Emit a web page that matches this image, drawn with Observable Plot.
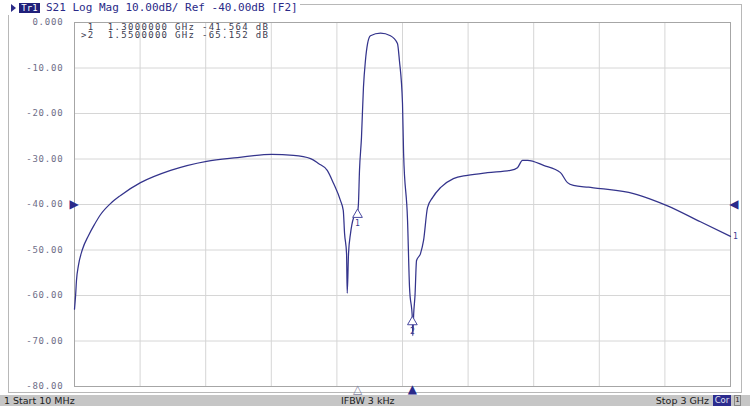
<!DOCTYPE html>
<html><head><meta charset="utf-8">
<script src="https://cdn.jsdelivr.net/npm/d3@7"></script>
<script src="https://cdn.jsdelivr.net/npm/@observablehq/plot@0.6"></script>
<style>
body{margin:0;background:#fff;}
#wrap{position:relative;width:750px;height:411px;overflow:hidden;background:#fff;}
#wrap svg{position:absolute;left:0;top:0;}
#outer{position:absolute;left:8px;top:4px;width:734px;height:389px;border:1px solid #b8b8b8;box-sizing:border-box;}
#hdrbg{position:absolute;left:0;top:0;width:300px;height:15px;background:#fff;}
.tri{position:absolute;left:11px;top:4px;width:0;height:0;border-top:4px solid transparent;border-bottom:4px solid transparent;border-left:5px solid #2a2a88;}
.tr{position:absolute;left:19px;top:3px;width:21px;height:10px;background:#20207a;color:#fff;font-family:"DejaVu Sans Mono",monospace;font-size:9px;line-height:10px;text-align:center;}
.txt{position:absolute;left:46px;top:1px;line-height:13px;white-space:pre;font-family:"DejaVu Sans Mono",monospace;font-size:11px;color:#2a2a88;}
.mk{position:absolute;left:81px;font-family:"DejaVu Sans Mono",monospace;font-size:9px;letter-spacing:1.3px;line-height:8px;white-space:pre;color:#3c3c50;}
#status{position:absolute;left:0;top:395px;width:750px;height:11px;background:#c6c6c6;}
.st{position:absolute;top:395px;height:11px;white-space:pre;font-family:"DejaVu Sans",sans-serif;font-size:9.5px;line-height:11px;color:#202020;}
.st.cor{background:#2c2c8e;color:#e0e0f0;width:18px;text-align:center;font-size:8.5px;}
.st.one{border:1px solid #888;box-sizing:border-box;width:7px;text-align:center;font-size:7px;line-height:9px;}
g[aria-label="y-axis tick label"] text{letter-spacing:0.8px;}
</style></head><body><div id="wrap"><div id="outer"></div></div>
<script>
// ---- data ----
const freqGHz = [0.010,0.015,0.019,0.028,0.046,0.074,0.101,0.129,0.174,0.220,0.311,0.448,0.612,0.753,0.908,1.008,1.086,1.122,1.162,1.191,1.222,1.235,1.241,1.250,1.253,1.259,1.268,1.282,1.300,1.304,1.309,1.318,1.327,1.336,1.346,1.359,1.405,1.450,1.482,1.491,1.505,1.510,1.528,1.537,1.550,1.552,1.556,1.562,1.569,1.587,1.601,1.619,1.642,1.678,1.737,1.801,1.892,1.997,2.029,2.052,2.075,2.148,2.225,2.257,2.284,2.353,2.408,2.558,2.635,2.713,2.863,3.000];
const s21dB = [-63.0,-60.0,-56.7,-53.4,-49.9,-46.8,-44.4,-42.2,-39.8,-38.0,-35.2,-32.5,-30.5,-29.7,-29.0,-29.2,-29.9,-31.0,-32.5,-35.4,-39.1,-41.3,-46.4,-50.8,-59.5,-50.8,-46.4,-42.9,-41.56,-40.0,-32.5,-25.3,-14.3,-8.4,-4.6,-2.9,-2.35,-2.9,-4.6,-8.4,-17.8,-28.8,-43.5,-58.2,-65.15,-68.8,-64.0,-60.0,-52.3,-50.8,-47.9,-40.7,-38.5,-36.3,-34.3,-33.6,-33.0,-32.5,-31.9,-30.3,-30.3,-31.4,-33.0,-35.2,-35.8,-36.2,-36.5,-37.6,-38.8,-40.3,-43.8,-47.0];
const yTicks = [0,-10,-20,-30,-40,-50,-60,-70,-80];
const yTickLabels = ["0.000","-10.00","-20.00","-30.00","-40.00","-50.00","-60.00","-70.00","-80.00"];
const xGridGHz = [0.01,0.309,0.608,0.907,1.206,1.505,1.804,2.103,2.402,2.701,3.0];
const markerNames = ["1","2"];
const markerFreqGHz = [1.3,1.55];
const markerDb = [-41.564,-65.152];
const markerActive = [false,true];
const refLevelDb = -40;
const traceName = "Tr1";
const headerText = "S21 Log Mag 10.00dB/ Ref -40.00dB [F2]";
const startLabel = "Start 10 MHz";
const ifbwLabel = "IFBW 3 kHz";
const stopLabel = "Stop 3 GHz";
const channelLabel = "1";

// ---- build ----
const trace = freqGHz.map((f,i)=>({f, db:s21dB[i]}));
const markers = markerNames.map((n,i)=>({name:n, f:markerFreqGHz[i], db:markerDb[i], active:markerActive[i]}));
const navy = "#2a2a8a";

const chart = Plot.plot({
  width:750, height:411,
  marginLeft:74, marginRight:20, marginTop:22, marginBottom:25,
  style:{fontFamily:"DejaVu Sans Mono, monospace", fontSize:"9px", background:"transparent", overflow:"visible"},
  x:{domain:[0.01,3], axis:null},
  y:{domain:[-80,0]},
  marks:[
    Plot.ruleY(yTicks, {stroke:"#d6d6d6"}),
    Plot.ruleX(xGridGHz, {stroke:"#d6d6d6"}),
    Plot.frame({stroke:"#a6a6a6"}),
    Plot.axisY(yTicks, {tickFormat:d=>yTickLabels[yTicks.indexOf(d)], tickSize:0, tickPadding:11, fill:"#6e6e88", fontSize:9}),
    Plot.line(trace, {x:"f", y:"db", stroke:"#34348c", strokeWidth:1.25, curve:"monotone-x"}),
    Plot.dot(markers, {x:"f", y:"db", symbol:"triangle", r:3.6, stroke:"#4a4aa0", fill:"white", strokeWidth:1, dy:3}),
    Plot.text(markers, {x:"f", y:"db", text:"name", dy:12, fill:"#3a3a90", fontSize:8}),
    Plot.text(markers, {x:"f", frameAnchor:"bottom", text:d=>d.active?"▲":"△", dy:6, fill:d=>d.active?navy:"#8080a0", fontSize:12, fontFamily:"DejaVu Sans"}),
    Plot.text([refLevelDb], {y:d=>d, frameAnchor:"left", text:()=>"▶", dx:-5, fill:navy, fontSize:12, fontFamily:"DejaVu Sans"}),
    Plot.text([refLevelDb], {y:d=>d, frameAnchor:"right", text:()=>"◀", dx:8, fill:navy, fontSize:12, fontFamily:"DejaVu Sans"}),
    Plot.text([trace[trace.length-1]], {x:"f", y:"db", text:()=>channelLabel, dx:5, fill:"#3a3a90", fontSize:8})
  ]
});
const wrap = document.getElementById("wrap");
wrap.appendChild(chart);

function add(cls, html, style){
  const e = document.createElement("div");
  e.className = cls;
  if (html !== null) e.textContent = html;
  if (style) e.setAttribute("style", style);
  wrap.appendChild(e);
  return e;
}
const bg = document.createElement("div"); bg.id = "hdrbg"; wrap.appendChild(bg);
add("tri", null);
add("tr", traceName);
add("txt", headerText);

markers.forEach((m,i)=>{
  add("mk", `${m.active?">":" "}${m.name}  ${m.f.toFixed(7)} GHz ${m.db.toFixed(3)} dB`, `top:${22.5 + i*8.5}px`);
});

const sb = document.createElement("div"); sb.id = "status"; wrap.appendChild(sb);
add("st", channelLabel, "left:4px");
add("st", startLabel, "left:13px");
add("st", ifbwLabel, "left:341px");
add("st", stopLabel, "right:41px");
add("st cor", "Cor", "left:713px");
add("st one", channelLabel, "left:734px");
</script>
</body></html>
